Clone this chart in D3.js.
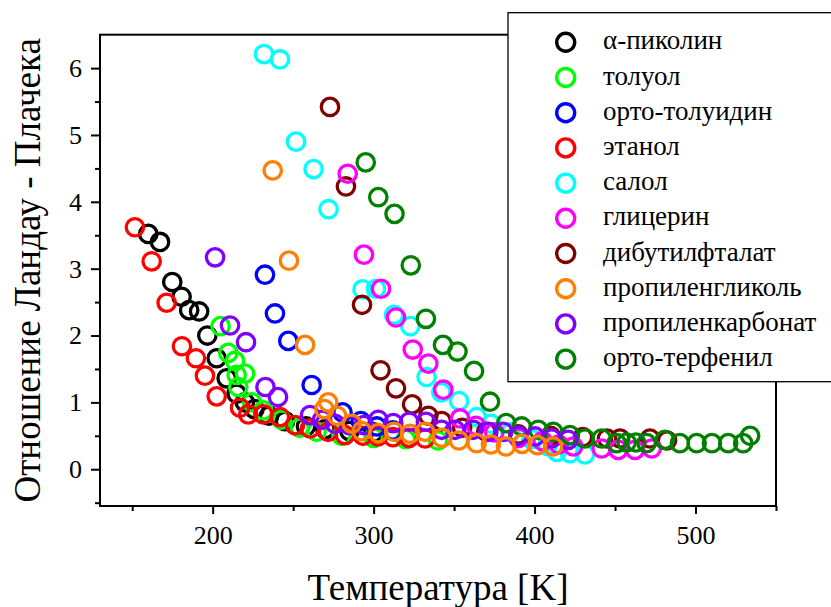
<!DOCTYPE html>
<html>
<head>
<meta charset="utf-8">
<script src="https://cdn.jsdelivr.net/npm/d3@7"></script>
<style>
  body { margin: 0; background: #fff; }
  svg { display: block; }
  text { font-family: "Liberation Serif", "Times New Roman", Times, "DejaVu Serif", serif; fill: #000; }
</style>
</head>
<body>
<svg id="chart" width="831" height="607"></svg>
<script>
const width = 831, height = 607;
const plot = {left: 100, top: 34.7, right: 776, bottom: 506};
const serifFont = "'Liberation Serif', 'Times New Roman', Times, 'DejaVu Serif', serif";

// series names and colours, legend order
const names = ["α-пиколин", "толуол", "орто-толуидин", "этанол", "салол", "глицерин",
    "дибутилфталат", "пропиленгликоль", "пропиленкарбонат", "орто-терфенил"];
const colors = ["#000000", "#00ff00", "#0000ff", "#ff0000", "#00ffff", "#ff00ff",
    "#800000", "#ff8000", "#8000ff", "#008000"];
// order in which the series were plotted (which sits on top)
const drawOrder = [0, 1, 3, 2, 4, 6, 5, 9, 8, 7];

// [T (K), ratio]
const picoline = [[160.0,3.52],[167.3,3.40],[174.9,2.80],[180.7,2.58],[185.4,2.38],[191.6,2.36],[196.7,2.00],
    [202.5,1.66],[208.7,1.36],[214.9,1.13],[220,1.0],[226,0.9],[235,0.8],[245,0.72],[258,0.64],[270,0.6],[285,0.57],[300,0.55]];
const toluene = [[204.9,2.14],[209.7,1.74],[213.9,1.62],[220.1,1.43],[214.9,1.41],[215.9,1.23],[224.4,1.00],
    [231.5,0.88],[242.8,0.74],[254,0.62],[264.6,0.56],[280,0.50],[300,0.47],[320,0.45],[340,0.43]];
const toluidine = [[232.5,2.91],[238.7,2.33],[247.0,1.92],[261.5,1.26],[280.7,0.85],[292,0.72],[302,0.64],[312,0.58]];
const ethanol = [[151.7,3.62],[162.1,3.11],[171.4,2.49],[180.9,1.84],[189.6,1.66],[195.2,1.40],[202.5,1.09],
    [217.0,0.92],[222.1,0.82],[231.5,0.82],[241.8,0.78],[251.2,0.66],[260.5,0.61],[271.7,0.56],[282.2,0.51],
    [293.4,0.50],[302.7,0.49],[312,0.48],[322,0.47],[332,0.46]];
const salol = [[231.9,6.21],[241.8,6.13],[251.8,4.90],[262.7,4.49],[272.0,3.89],[293.1,2.69],[301.5,2.70],
    [312.7,2.31],[322.8,2.14],[332.9,1.38],[342,1.15],[353.1,1.02],[364.1,0.78],[372.9,0.68],[385,0.55],
    [398,0.45],[408,0.35],[413.8,0.26],[422.0,0.24],[431.3,0.22]];
const glycerol = [[283.9,4.42],[294.0,3.21],[304.6,2.70],[313.9,2.27],[324.3,1.79],[334.0,1.58],[343.3,1.19],
    [353.7,0.76],[363.6,0.65],[375,0.55],[390,0.47],[405,0.42],[415,0.37],[424.1,0.34],[441.7,0.31],
    [452.0,0.29],[462.4,0.29],[472.8,0.31]];
const phthalate = [[272.9,5.42],[282.8,4.23],[292.8,2.46],[304.3,1.48],[313.9,1.21],[323.9,0.97],[334.0,0.80],
    [342.3,0.72],[355,0.62],[370,0.56],[390,0.52],[410,0.5],[430,0.48],[445,0.46],[453.1,0.46],[471.7,0.46],[482.3,0.43]];
const glycol = [[237.3,4.47],[247.4,3.12],[257.4,1.86],[271.8,1.00],[269.4,0.90],[277.3,0.80],[286.4,0.68],
    [292.6,0.57],[302.9,0.54],[312.7,0.56],[322.6,0.53],[331.9,0.56],[342.5,0.47],[353.0,0.43],[364.0,0.39],
    [372.9,0.37],[382.2,0.34],[392.2,0.38],[401.8,0.36],[411.4,0.34]];
const carbonate = [[201.5,3.17],[210.8,2.15],[220.7,1.90],[232.8,1.23],[240.6,1.08],[260.5,0.81],[268,0.74],
    [276,0.68],[285,0.66],[294,0.66],[302.9,0.74],[312.2,0.69],[322.1,0.71],[332.5,0.71],[342.2,0.59],
    [350.6,0.59],[361.9,0.59],[371.3,0.56],[380.5,0.56],[389.9,0.50],[400.3,0.49],[410.6,0.46],[420.9,0.44]];
const terphenyl = [[295.1,4.59],[302.9,4.07],[313.0,3.82],[323.1,3.05],[332.5,2.25],[343.1,1.86],[352.1,1.76],
    [362.4,1.47],[372.3,1.01],[382.4,0.69],[392.0,0.64],[402.3,0.59],[411.6,0.56],[422.0,0.51],[431.3,0.46],
    [441.7,0.46],[451.0,0.39],[457.2,0.40],[463.0,0.40],[469.6,0.39],[481.0,0.44],[490.3,0.39],[500.7,0.39],
    [510.2,0.39],[520.3,0.39],[529.6,0.39],[533.9,0.50]];

const seriesData = [picoline, toluene, toluidine, ethanol, salol, glycerol, phthalate, glycol, carbonate, terphenyl];

const xTicks = [200, 300, 400, 500];
const xMinor = [150, 250, 350, 450, 550];
const yTicks = [0, 1, 2, 3, 4, 5, 6];
const yMinor = [-0.5, 0.5, 1.5, 2.5, 3.5, 4.5, 5.5];

const svg = d3.select("#chart");

const x = d3.scaleLinear().domain([130, 550]).range([plot.left, plot.right]);
const y = d3.scaleLinear().domain([-0.55, 6.5]).range([plot.bottom, plot.top]);

// frame
svg.append("rect")
    .attr("x", plot.left).attr("y", plot.top)
    .attr("width", plot.right - plot.left).attr("height", plot.bottom - plot.top)
    .attr("fill", "none").attr("stroke", "#000").attr("stroke-width", 2);

// axes
function styleAxis(g) {
    g.attr("font-family", null);
    g.select(".domain").remove();
    g.selectAll(".tick line").attr("stroke", "#000").attr("stroke-width", 2);
    g.selectAll(".tick text").style("font-size", "26px").style("font-family", serifFont);
}

svg.append("g")
    .attr("transform", `translate(0,${plot.bottom})`)
    .call(d3.axisBottom(x).tickValues(xTicks).tickSize(8).tickPadding(12).tickFormat(d3.format("d")))
    .call(styleAxis);
svg.append("g")
    .attr("transform", `translate(0,${plot.bottom})`)
    .call(d3.axisBottom(x).tickValues(xMinor).tickSize(5).tickFormat(""))
    .call(styleAxis);

svg.append("g")
    .attr("transform", `translate(${plot.left},0)`)
    .call(d3.axisLeft(y).tickValues(yTicks).tickSize(9).tickPadding(9).tickFormat(d3.format("d")))
    .call(styleAxis);
svg.append("g")
    .attr("transform", `translate(${plot.left},0)`)
    .call(d3.axisLeft(y).tickValues(yMinor).tickSize(5).tickFormat(""))
    .call(styleAxis);

// markers
svg.append("clipPath").attr("id", "plotclip")
    .append("rect").attr("x", plot.left).attr("y", plot.top)
    .attr("width", plot.right - plot.left).attr("height", plot.bottom - plot.top);

const marks = svg.append("g").attr("clip-path", "url(#plotclip)");
drawOrder.forEach(i => {
    marks.append("g")
        .selectAll("circle")
        .data(seriesData[i])
        .join("circle")
            .attr("cx", d => x(d[0]))
            .attr("cy", d => y(d[1]))
            .attr("r", 8.7)
            .attr("fill", "none")
            .attr("stroke", colors[i])
            .attr("stroke-width", 3.3);
});

// axis titles
svg.append("text")
    .attr("x", (plot.left + plot.right) / 2)
    .attr("y", 600)
    .attr("text-anchor", "middle")
    .style("font-family", serifFont)
    .style("font-size", "37px")
    .text("Температура [K]");

svg.append("text")
    .attr("transform", `translate(40,${(plot.top + plot.bottom) / 2}) rotate(-90)`)
    .attr("text-anchor", "middle")
    .style("font-family", serifFont)
    .style("font-size", "37px")
    .text("Отношение Ландау - Плачека");

// legend
const legend = svg.append("g");
legend.append("rect")
    .attr("x", 508).attr("y", 12.7)
    .attr("width", 340).attr("height", 369)
    .attr("fill", "#fff").attr("stroke", "#000").attr("stroke-width", 1.3);

const legendStep = 35.2;
const items = legend.selectAll("g.item")
    .data(names)
    .join("g")
        .attr("class", "item")
        .attr("transform", (d, i) => `translate(0,${42.3 + i * legendStep})`);
items.append("circle")
    .attr("cx", 565.7).attr("cy", 0).attr("r", 9)
    .attr("fill", "none")
    .attr("stroke", (d, i) => colors[i])
    .attr("stroke-width", 3.4);
items.append("text")
    .attr("x", 603).attr("y", 7)
    .style("font-family", serifFont)
    .style("font-size", "27px")
    .text(d => d);
</script>
</body>
</html>
